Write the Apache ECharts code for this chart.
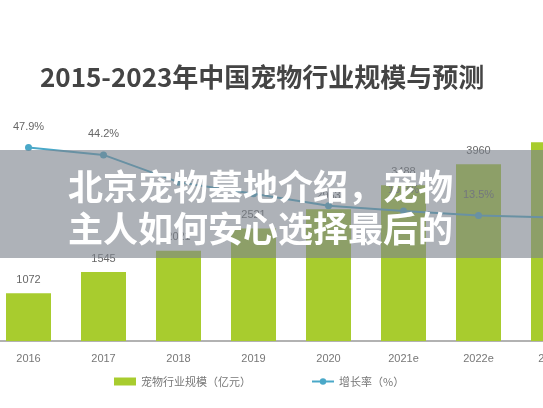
<!DOCTYPE html>
<html><head><meta charset="utf-8">
<script src="https://cdn.jsdelivr.net/npm/echarts@6/dist/echarts.min.js"></script>
<style>html,body{margin:0;padding:0;background:#fff;overflow:hidden;width:543px;height:408px;position:relative}#c{width:600px;height:408px;position:absolute;left:-9.5px;top:0}</style>
</head><body><div id="c"></div>
<script>
const categories = ['2016','2017','2018','2019','2020','2021e','2022e','2023e'];
const scaleValues = [1072,1545,2021,2521,2953,3488,3960,4456];
const growthValues = [47.9,44.2,30.4,24.5,18.5,15.8,13.5,12.5];
const growthLabels = ['47.9%','44.2%','','','','15.8%','13.5%',''];
const chart = echarts.init(document.getElementById('c'));
chart.setOption({
  animation:false,
  title:{text:'2015-2023年中国宠物行业规模与预测',left:44,top:59,textStyle:{fontSize:26,fontWeight:'bold',color:'#444',fontFamily:'Noto Sans CJK SC'}},
  legend:{bottom:16,left:118,itemGap:60,itemWidth:22,itemHeight:8,textStyle:{color:'#777',fontSize:11,fontFamily:'Noto Sans CJK SC'},
    data:[{name:'宠物行业规模（亿元）',icon:'rect'},{name:'增长率（%）'}]},
  grid:{left:0,right:0,top:100,bottom:67},
  xAxis:{type:'category',data:categories,axisTick:{show:false},axisLine:{lineStyle:{color:'#999',width:1.5}},
    axisLabel:{color:'#777',fontSize:11,margin:12}},
  yAxis:[{type:'value',min:0,max:5400,show:false},{type:'value',min:-50,max:72,show:false}],
  series:[
    {name:'宠物行业规模（亿元）',type:'bar',data:scaleValues,barWidth:45,itemStyle:{color:'#a8cc2e'},
      label:{show:true,position:'top',color:'#666',fontSize:11,distance:8,formatter:p=>p.dataIndex<7?p.value:''}},
    {name:'增长率（%）',type:'line',yAxisIndex:1,data:growthValues,symbol:'circle',symbolSize:7,
      lineStyle:{color:'#4aa8c8',width:2},itemStyle:{color:'#4aa8c8'},
      label:{show:true,position:'top',distance:12,color:'#666',fontSize:11,formatter:p=>growthLabels[p.dataIndex]}}
  ],
  graphic:[
    {type:'rect',shape:{x:0,y:150,width:600,height:108},style:{fill:'rgba(125,130,140,0.62)'},z:100},
    {type:'text',left:77,top:166,style:{text:'北京宠物墓地介绍，宠物\n主人如何安心选择最后的',fill:'#fff',fontSize:35,fontWeight:'bold',lineHeight:42,fontFamily:'Noto Sans CJK SC',align:'left'},z:101}
  ]
});
</script></body></html>
